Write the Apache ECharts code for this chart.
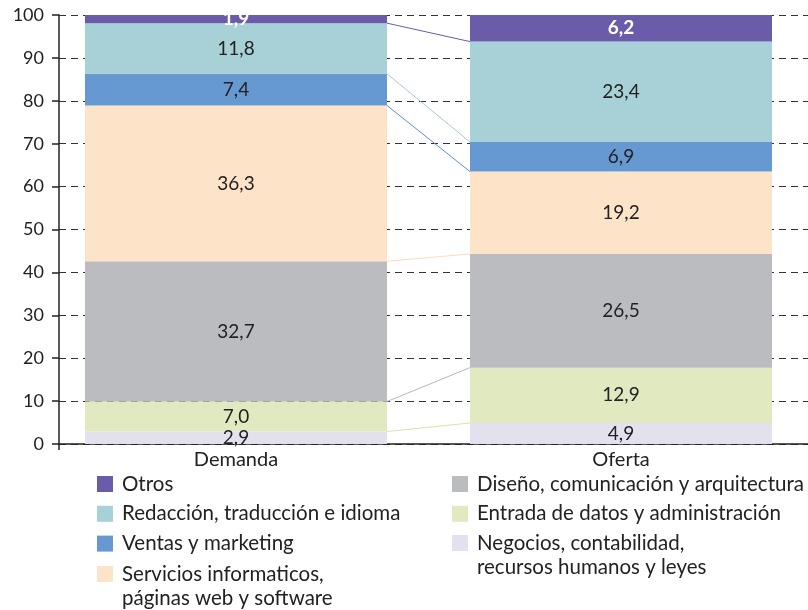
<!DOCTYPE html>
<html><head><meta charset="utf-8">
<script src="https://cdn.jsdelivr.net/npm/echarts@6/dist/echarts.min.js"></script>
<style>html,body{margin:0;padding:0;background:#fff}#c{width:808px;height:610px}</style>
</head><body><div id="c"></div>
<script>
// ---- data ----
const categories = ['Demanda', 'Oferta'];
const nameNegocios = 'Negocios, contabilidad,\nrecursos humanos y leyes';
const nameEntrada = 'Entrada de datos y administración';
const nameDiseno = 'Diseño, comunicación y arquitectura';
const nameServicios = 'Servicios informaticos,\npáginas web y software';
const nameVentas = 'Ventas y marketing';
const nameRedaccion = 'Redacción, traducción e idioma';
const nameOtros = 'Otros';
const negocios = [2.9, 4.9];
const entrada = [7.0, 12.9];
const diseno = [32.7, 26.5];
const servicios = [36.3, 19.2];
const ventas = [7.4, 6.9];
const redaccion = [11.8, 23.4];
const otros = [1.9, 6.2];
const yTickValues = [0, 10, 20, 30, 40, 50, 60, 70, 80, 90, 100];

// ---- styles ----
const FONT = 'Lato';
const TXT = '#222';
const BAR_W = 302;
const X_MIN = -0.4597, X_MAX = 1.4857;
const stackNames = [nameNegocios, nameEntrada, nameDiseno, nameServicios, nameVentas, nameRedaccion, nameOtros];
const stackValues = [negocios, entrada, diseno, servicios, ventas, redaccion, otros];
const colors = ['#e4e1ef', '#e1e9c0', '#bbbcc0', '#fde4c9', '#6699d1', '#a7d1d6', '#6a5ca9'];
const lineColors = ['#e4e1ef', '#d9e3b0', '#b5b6ba', '#fcdcbc', '#5a8fcc', '#a0cdd3', '#6a5ca9'];

const fmt = v => v.toFixed(1).replace('.', ',');

// data items are [value, categoryIndex] so the value dimension is the stacked one
const barSeries = stackNames.map((name, i) => ({
  name: name,
  type: 'bar',
  stack: 'total',
  barWidth: BAR_W,
  encode: { y: 0, x: 1 },
  itemStyle: { color: colors[i] },
  label: {
    show: true, position: 'inside',
    color: i === 6 ? '#fff' : TXT,
    fontWeight: i === 6 ? 'bold' : 'normal',
    fontSize: 19, fontFamily: FONT,
    formatter: p => fmt(p.value[0])
  },
  data: stackValues[i].map((v, j) => [v, j])
}));

// connector lines: bottom of each segment (above the first) in both bars
const connData = [];
for (let k = 1; k < stackValues.length; k++) {
  let cd = 0, co = 0;
  for (let m = 0; m < k; m++) { cd += stackValues[m][0]; co += stackValues[m][1]; }
  connData.push([0, cd, 1, co, k]);
}

const connSeries = {
  type: 'custom',
  name: 'connectors',
  silent: true,
  encode: { x: [0, 2], y: [1, 3] },
  renderItem: (params, api) => {
    const p0 = api.coord([api.value(0), api.value(1)]);
    const p1 = api.coord([api.value(2), api.value(3)]);
    const k = api.value(4);
    return {
      type: 'line',
      shape: { x1: p0[0] + BAR_W / 2, y1: p0[1], x2: p1[0] - BAR_W / 2, y2: p1[1] },
      style: { stroke: lineColors[k], lineWidth: 1 }
    };
  },
  data: connData
};

const legendBase = {
  orient: 'vertical', icon: 'rect', itemWidth: 16, itemHeight: 16, itemGap: 5.8,
  padding: 0, selectedMode: false,
  textStyle: { fontSize: 20.5, lineHeight: 24, color: TXT, fontFamily: FONT, padding: [0, 0, 0, 4] }
};
// two-line names: a leading empty line keeps the first text line level with the icon
const twoLine = name => '\n' + name;

const chart = echarts.init(document.getElementById('c'), null, { renderer: 'canvas' });
chart.setOption({
  animation: false,
  backgroundColor: '#fff',
  textStyle: { fontFamily: FONT },
  grid: { left: 59, right: 0, top: 15, bottom: 166, containLabel: false },
  xAxis: {
    type: 'value',
    min: X_MIN, max: X_MAX,
    axisLine: { show: true, onZero: false, lineStyle: { color: '#222', width: 1.5 } },
    axisTick: { show: true, customValues: [X_MIN], length: 6, lineStyle: { color: '#222', width: 1.5 } },
    splitLine: { show: false },
    axisLabel: {
      customValues: [0, 1],
      formatter: v => categories[Math.round(v)],
      fontSize: 20, color: TXT, fontFamily: FONT, margin: 6
    }
  },
  yAxis: {
    type: 'value', min: 0, max: 100, interval: 10,
    axisLine: { show: true, onZero: false, lineStyle: { color: '#222', width: 1.5 } },
    axisTick: { show: true, inside: false, length: 7, lineStyle: { color: '#222', width: 1.5 } },
    axisLabel: { fontSize: 18, color: TXT, fontFamily: FONT, margin: 15,
      customValues: yTickValues },
    splitLine: { show: true, lineStyle: { color: '#333', type: [7, 5], width: 1 } }
  },
  legend: [
    Object.assign({}, legendBase, { left: 97, top: 472, data: [nameOtros, nameRedaccion, nameVentas] }),
    Object.assign({}, legendBase, { left: 97, top: 538, data: [nameServicios], formatter: twoLine }),
    Object.assign({}, legendBase, { left: 452, top: 472, data: [nameDiseno, nameEntrada] }),
    Object.assign({}, legendBase, { left: 452, top: 507, data: [nameNegocios], formatter: twoLine })
  ],
  series: barSeries.concat([connSeries])
});
</script></body></html>
